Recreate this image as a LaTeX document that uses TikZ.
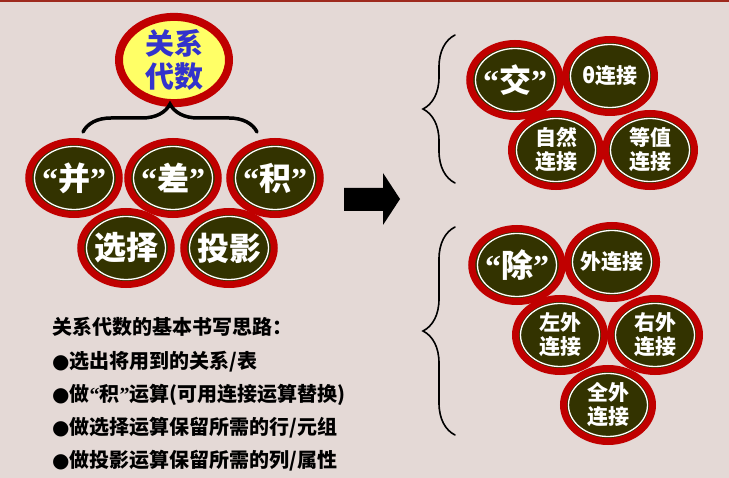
\documentclass[tikz,border=0pt]{standalone}
\usepackage{fontspec}
\newfontfamily\cjk{Noto Sans CJK SC}
\newfontfamily\quotefont{Liberation Serif}
\newfontfamily\dotfont{DejaVu Sans}
\usetikzlibrary{positioning,shapes.geometric,decorations.pathreplacing}
\definecolor{ringred}{HTML}{C00000}
\definecolor{opfill}{HTML}{333300}
\definecolor{rootfill}{HTML}{FFFF66}
\definecolor{rootblue}{HTML}{3333CC}
\definecolor{bgpaper}{HTML}{E4D9D6}
\definecolor{topred}{HTML}{9E2A1E}
\newcommand\quoted[1]{{\quotefont\bfseries“}#1{\quotefont\bfseries”}}
\newcommand\bul{{\dotfont ●}}
\tikzset{
  opnode/.style={ellipse,draw=ringred,line width=7pt,fill=opfill,
    minimum width=89pt,minimum height=73pt,inner sep=0pt,text=white,align=center,
    font=\cjk\bfseries\fontsize{32}{32}\selectfont,
    path picture={\draw[white,line width=1.3pt]
      (path picture bounding box.center) ellipse [x radius=39.5pt,y radius=31.5pt];}},
  joinnode/.style={opnode,font=\cjk\bfseries\fontsize{21}{24}\selectfont},
  rootnode/.style={ellipse,draw=ringred,line width=8pt,fill=rootfill,
    minimum width=110pt,minimum height=82pt,inner sep=0pt,text=rootblue,align=center,
    font=\cjk\bfseries\fontsize{29}{33}\selectfont},
  brace/.style={decorate,decoration={brace,amplitude=#1},line cap=round},
  tipline/.style={inner sep=0pt,text height=15pt,text depth=5pt,
    font=\cjk\bfseries\fontsize{20}{20}\selectfont}
}
\begin{document}
\begin{tikzpicture}[x=1pt,y=-1pt]
\fill[bgpaper] (0,0) rectangle (729,478);
\useasboundingbox (0,0) rectangle (729,478);
\fill[topred] (0,0) rectangle (729,2.5);

% left: relational algebra
\node[rootnode] (root) at (174,60) {关系\\代数};
\coordinate (tb-l) at (83,132);
\coordinate (tb-r) at (257,132);
\draw[brace=28pt,line width=3.5pt] (tb-l) -- (tb-r);

\node[opnode] (union) at (74,178) {\quoted{并}};
\node[opnode] (diff) at (173,178) {\quoted{差}};
\node[opnode] (prod) at (275,178) {\quoted{积}};
\node[opnode] (sel) at (126,248) {选择};
\node[opnode] (proj) at (229,248) {投影};

% arrow
\fill[black] (344,188) -- (383,188) -- (383,173) -- (400,199)
  -- (383,225) -- (383,211) -- (344,211) -- cycle;

% right top: joins
\coordinate (rb1-b) at (455,183);
\coordinate (rb1-t) at (455,35);
\draw[brace=32pt,line width=1.6pt] (rb1-b) -- (rb1-t);
\node[opnode] (inter) at (515,80) {\quoted{交}};
\node[joinnode] (theta) at (610,76) {θ连接};
\node[joinnode] (natural) at (556,150) {自然\\连接};
\node[joinnode] (equi) at (650,150) {等值\\连接};

% right bottom: division, outer joins
\coordinate (rb2-b) at (455,435);
\coordinate (rb2-t) at (455,227);
\draw[brace=32pt,line width=1.6pt] (rb2-b) -- (rb2-t);
\node[opnode] (div) at (517,265) {\quoted{除}};
\node[joinnode] (outer) at (612,262) {外连接};
\node[joinnode] (lefto) at (560,335) {左外\\连接};
\node[joinnode] (righto) at (655,335) {右外\\连接};
\node[joinnode] (fullo) at (608,405) {全外\\连接};

% writing steps
\node[tipline,anchor=west] (l0) at (52,330) {关系代数的基本书写思路：};
\node[tipline,below=12.7pt of l0.south west,anchor=north west] (l1) {\bul 选出将用到的关系/表};
\node[tipline,below=12.7pt of l1.south west,anchor=north west] (l2) {\bul 做\quoted{积}运算(可用连接运算替换)};
\node[tipline,below=12.7pt of l2.south west,anchor=north west] (l3) {\bul 做选择运算保留所需的行/元组};
\node[tipline,below=12.7pt of l3.south west,anchor=north west] (l4) {\bul 做投影运算保留所需的列/属性};
\end{tikzpicture}
\end{document}
